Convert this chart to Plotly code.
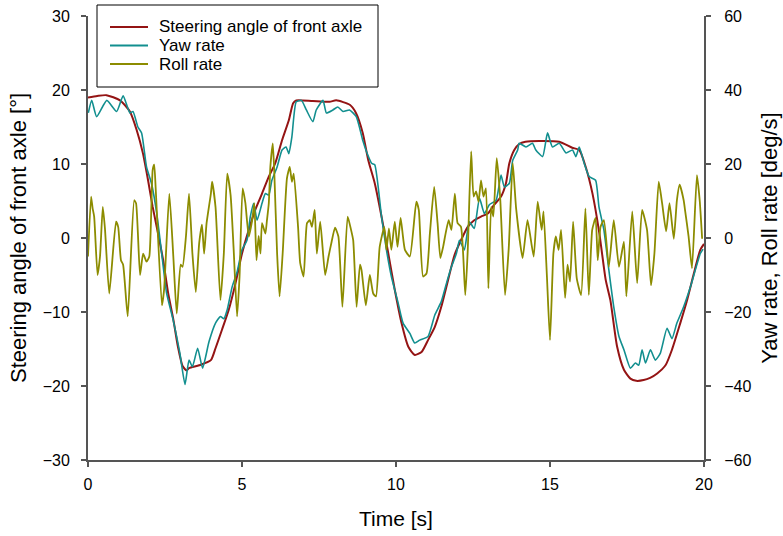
import plotly.graph_objects as go

# Steering angle of front axle [deg] (left axis)
steer_t = [0.0, 0.3, 0.6, 1.04, 1.36, 1.58, 1.78, 1.95, 2.1, 2.27, 2.44, 2.6, 2.77, 2.92, 3.07, 3.2,
           3.28, 3.61, 3.99, 4.14, 4.35, 4.57, 4.79, 5.0, 5.22, 5.43, 5.65, 5.87, 6.08, 6.3, 6.52,
           6.66, 6.76, 7.3, 7.84, 8.06, 8.5, 8.7, 8.92, 9.1, 9.31, 9.53, 9.75, 9.96, 10.18, 10.4,
           10.61, 10.83, 11.04, 11.26, 11.47, 11.69, 11.9, 12.11, 12.33, 12.54, 12.76, 12.98, 13.19,
           13.41, 13.57, 13.68, 13.84, 14.0, 14.2, 14.65, 15.3, 15.72, 15.95, 16.16, 16.38, 16.6,
           16.81, 16.96, 17.18, 17.4, 17.61, 17.8, 18.04, 18.25, 18.48, 18.75, 18.96, 19.23, 19.45,
           19.67, 19.88, 20.0]
steer_v = [19.0, 19.2, 19.3, 18.6, 17.1, 14.6, 11.5, 7.8, 4.2, 0.7, -3.0, -7.4, -11.0, -14.7, -17.3, -17.9,
           -17.6, -17.2, -16.5, -14.9, -12.4, -9.7, -6.1, -2.1, 1.1, 3.8, 6.0, 8.3, 10.1, 13.2, 15.9,
           18.2, 18.6, 18.5, 18.4, 18.6, 18.0, 16.9, 14.2, 10.5, 7.4, 2.9, -2.1, -7.0, -11.5, -14.7,
           -15.8, -15.4, -13.8, -12.0, -9.3, -5.7, -2.3, -0.3, 1.5, 2.4, 2.9, 3.3, 4.5,
           5.6, 7.4, 10.1, 11.9, 12.7, 13.0, 13.1, 13.0, 12.2, 11.9, 9.6, 6.0, 0.7,
           -5.7, -8.4, -14.7, -17.8, -19.0, -19.3, -19.2, -18.9, -18.3, -17.2, -15.1, -11.5, -8.4,
           -4.8, -1.6, -0.8]

# Yaw rate [deg/s] (right axis)
yaw_t = [0.01, 0.12, 0.28, 0.61, 0.93, 1.14, 1.36, 1.46, 1.62, 1.74, 1.9, 2.06, 2.23, 2.39, 2.55, 2.76,
         2.98, 3.15, 3.28, 3.39, 3.56, 3.72, 3.93, 4.14, 4.3, 4.41, 4.52, 4.68, 4.84, 5.0, 5.16, 5.27,
         5.38, 5.49, 5.65, 5.76, 5.87, 5.97, 6.14, 6.3, 6.43, 6.52, 6.62, 6.76, 6.93, 7.09, 7.3, 7.41,
         7.63, 7.74, 7.95, 8.11, 8.28, 8.49, 8.71, 8.92, 9.04, 9.21, 9.31, 9.53, 9.69, 9.85, 10.07,
         10.23, 10.45, 10.61, 10.77, 11.04, 11.26, 11.47, 11.64, 11.8, 11.96, 12.06, 12.22, 12.38,
         12.54, 12.71, 12.87, 13.03, 13.25, 13.41, 13.52, 13.68, 13.79, 13.95, 14.0, 14.22, 14.43,
         14.54, 14.76, 14.92, 15.08, 15.3, 15.52, 15.73, 15.84, 15.95, 16.11, 16.27, 16.48, 16.59,
         16.75, 16.91, 17.07, 17.24, 17.4, 17.61, 17.77, 17.88, 17.99, 18.1, 18.26, 18.42, 18.58,
         18.8, 18.96, 19.12, 19.34, 19.56, 19.72, 19.88, 19.97]
yaw_v = [33.8, 37.2, 32.8, 37.2, 34.2, 38.4, 33.8, 34.2, 30.0, 28.4, 19.2, 14.8, 6.8, -4.0, -14.8, -22.0,
         -31.0, -39.6, -33.0, -34.8, -29.8, -35.2, -28.0, -23.0, -21.2, -21.8, -19.4, -13.2, -9.2, -3.2, -0.6, 5.8,
         9.4, 4.8, 9.4, 12.0, 11.6, 15.6, 19.2, 23.8, 24.6, 22.8, 27.4, 36.8, 37.2, 34.6, 31.4, 34.6,
         37.2, 33.8, 34.6, 35.4, 34.2, 34.6, 32.8, 26.4, 23.4, 20.2, 19.8, 5.8, -3.2, -10.4, -17.6,
         -23.0, -25.8, -28.4, -27.6, -26.6, -20.8, -17.2, -12.2, -7.8, -4.2, -0.6, -3.2, 4.4,
         2.6, 10.8, 6.6, 9.0, 10.2, 17.0, 13.8, 14.8, 21.0, 23.8, 25.6, 24.6, 25.6,
         23.8, 22.0, 28.4, 24.6, 25.6, 23.0, 23.8, 22.0, 24.6, 20.2, 16.6, 15.6, 8.4,
         2.2, -8.6, -18.6, -26.6, -30.2, -35.2, -33.8, -34.4, -30.2, -33.8, -30.2, -33.0, -31.2,
         -24.4, -27.2, -23.0, -18.6, -13.2, -8.6, -4.2, -3.0]

# Roll rate [deg/s] (right axis)
roll_t = [0.0, 0.1, 0.15, 0.2, 0.31, 0.39, 0.48, 0.55, 0.69, 0.91, 0.98, 1.07, 1.14, 1.29, 1.5, 1.56,
          1.69, 1.79, 1.9, 1.99, 2.1, 2.15, 2.2, 2.4, 2.47, 2.64, 2.77, 2.88, 3.01, 3.07, 3.18, 3.28,
          3.39, 3.5, 3.61, 3.7, 3.77, 3.85, 3.99, 4.03, 4.14, 4.3, 4.41, 4.52, 4.63, 4.73, 4.84, 4.92,
          5.02, 5.11, 5.22, 5.33, 5.4, 5.47, 5.54, 5.6, 5.65, 5.76, 5.81, 5.87, 5.92, 6.0, 6.05, 6.14,
          6.22, 6.32, 6.46, 6.55, 6.62, 6.68, 6.82, 6.89, 7.0, 7.11, 7.2, 7.27, 7.36, 7.43, 7.54, 7.7,
          7.81, 7.91, 8.02, 8.13, 8.26, 8.43, 8.53, 8.61, 8.72, 8.83, 8.88, 9.02, 9.15, 9.26, 9.35,
          9.47, 9.62, 9.69, 9.77, 9.85, 9.96, 10.05, 10.15, 10.29, 10.45, 10.66, 10.74, 10.88, 10.99,
          11.1, 11.24, 11.35, 11.44, 11.53, 11.61, 11.71, 11.8, 11.91, 12.0, 12.11, 12.25, 12.33,
          12.44, 12.52, 12.6, 12.68, 12.76, 12.84, 12.92, 13.0, 13.09, 13.16, 13.27, 13.38, 13.54,
          13.66, 13.79, 13.9, 14.11, 14.27, 14.47, 14.6, 14.73, 14.79, 14.9, 15.0, 15.11, 15.19,
          15.28, 15.36, 15.49, 15.57, 15.65, 15.75, 15.87, 16.01, 16.15, 16.26, 16.37, 16.48, 16.55,
          16.64, 16.75, 16.91, 17.07, 17.24, 17.4, 17.48, 17.67, 17.83, 17.99, 18.15, 18.28, 18.39,
          18.53, 18.64, 18.77, 18.88, 19.02, 19.12, 19.21, 19.34, 19.39, 19.5, 19.61, 19.77, 19.86,
          19.94]
roll_v = [-5.0, 11.2, 8.0, 5.8, -10.0, -5.0, 8.4, 2.6, -15.0, 4.4, 3.0, -6.0, -7.2, -21.2, 10.2, 9.4,
          -10.0, -4.2, -6.4, -5.0, 18.4, 19.8, 13.0, -18.2, -14.0, 12.0, -5.0, -20.4, -7.2, -7.8, 0.4, 12.0,
          -4.2, -14.6, -1.4, 3.6, -4.2, 4.0, 12.0, 15.2, 8.4, -16.8, -4.2, 17.4, 11.6, -3.2, -21.2, -10.4,
          13.4, 9.4, 0.4, 4.8, 9.4, -6.0, 0.6, -4.2, 4.0, 1.2, 4.8, 9.4, 19.2, 25.6, 17.4, -4.2,
          -15.8, -4.2, 16.2, 19.2, 15.2, 17.4, 3.0, -6.8, -10.4, 4.0, 4.8, 3.0, 7.6, -4.2, 4.4, -10.0,
          -5.0, -1.0, 2.8, 0.4, -18.6, 5.8, 2.6, -0.6, -18.6, -7.2, -8.6, -18.2, -10.0, -15.0, -15.8,
          -2.4, 3.0, -3.2, 2.6, -3.2, 4.4, -2.4, 5.4, -3.2, -5.0, 9.8, 7.6, -10.4, -9.6,
          1.2, 13.8, 4.0, -5.4, -2.4, 1.2, 4.8, 2.2, 12.0, 4.0, 3.0, -15.4, -3.2,
          23.4, 11.2, 12.6, 9.8, 15.6, 11.2, 13.4, -13.6, 8.4, 5.8, 21.6, 11.2, -15.4,
          -2.8, 20.2, 8.0, -5.4, 4.8, -5.0, 9.8, 2.2, 7.2, -10.4, -27.6, -4.2, 0.4,
          -3.2, 2.2, -16.2, -7.2, -11.8, 4.4, -11.0, -15.4, 8.0, -15.4, 2.2, 5.4, -6.0,
          3.0, 4.8, -7.8, 4.8, -7.8, -1.0, -15.8, 7.2, -12.2, 7.6, 2.2, -12.8, -4.2,
          15.2, 9.4, 1.8, 9.4, -0.2, 10.2, 14.4, 10.2, 7.2, 0.4, -8.2, 17.0, 10.2,
          -0.2]

series_names = ["Steering angle of front axle", "Yaw rate", "Roll rate"]
series_colors = ["#941414", "#128F8F", "#8C8C00"]

FONT = "Arial, Liberation Sans, sans-serif"
AX = "#555555"

# plot area in pixels (for the hand-drawn legend box)
L, R, T, B = 88, 704, 16, 460
W, H = 783, 536
def px(x):
    return (x - L) / (R - L)
def py(y):
    return (B - y) / (B - T)

fig = go.Figure()
fig.add_trace(go.Scatter(x=steer_t, y=steer_v, mode="lines", name=series_names[0],
                         line=dict(color=series_colors[0], width=2, shape="spline", smoothing=0.6)))
fig.add_trace(go.Scatter(x=yaw_t, y=yaw_v, mode="lines", name=series_names[1], yaxis="y2",
                         line=dict(color=series_colors[1], width=1.6, shape="spline", smoothing=0.5)))
fig.add_trace(go.Scatter(x=roll_t, y=roll_v, mode="lines", name=series_names[2], yaxis="y2",
                         line=dict(color=series_colors[2], width=1.8, shape="spline", smoothing=0.5)))

shapes = [dict(type="rect", xref="paper", yref="paper", x0=px(97), x1=px(378), y0=py(87), y1=py(5),
               line=dict(color="black", width=1), fillcolor="white", layer="above")]
annotations = []
for i, (nm, col) in enumerate(zip(series_names, series_colors)):
    yy = 27 + i * 18.5
    shapes.append(dict(type="line", xref="paper", yref="paper", x0=px(110), x1=px(148),
                       y0=py(yy), y1=py(yy), line=dict(color=col, width=2), layer="above"))
    annotations.append(dict(text=nm, xref="paper", yref="paper", x=px(157), y=py(yy),
                            xanchor="left", yanchor="middle", showarrow=False,
                            font=dict(family=FONT, size=17, color="black")))

fig.update_layout(
    width=W, height=H,
    margin=dict(l=L, r=W - R, t=T, b=H - B, autoexpand=False),
    paper_bgcolor="white", plot_bgcolor="white",
    font=dict(family=FONT, size=16, color="black"),
    showlegend=False,
    shapes=shapes, annotations=annotations,
    xaxis=dict(range=[0, 20], tickvals=[0, 5, 10, 15, 20], showgrid=False, zeroline=False,
               automargin=False,
               showline=True, linecolor=AX, linewidth=2, ticks="outside", ticklen=5,
               tickcolor=AX, tickwidth=1.5, ticklabelstandoff=4,
               title=dict(text="Time [s]", font=dict(size=21), standoff=19)),
    yaxis=dict(range=[-30, 30], tickvals=[-30, -20, -10, 0, 10, 20, 30], showgrid=False,
               automargin=False,
               zeroline=False, showline=True, linecolor=AX, linewidth=2, ticks="outside",
               ticklen=5, tickcolor=AX, tickwidth=1.5, ticklabelstandoff=8,
               title=dict(text="Steering angle of front axle [°]", font=dict(size=22), standoff=10)),
    yaxis2=dict(range=[-60, 60], tickvals=[-60, -40, -20, 0, 20, 40, 60], overlaying="y",
                automargin=False,
                side="right", showgrid=False, zeroline=False, showline=True, linecolor=AX,
                linewidth=2, ticks="outside", ticklen=5, tickcolor=AX, tickwidth=1.5,
                ticklabelstandoff=10,
                title=dict(text="Yaw rate, Roll rate [deg/s]", font=dict(size=22), standoff=11)),
)

fig.write_html("out.html")
